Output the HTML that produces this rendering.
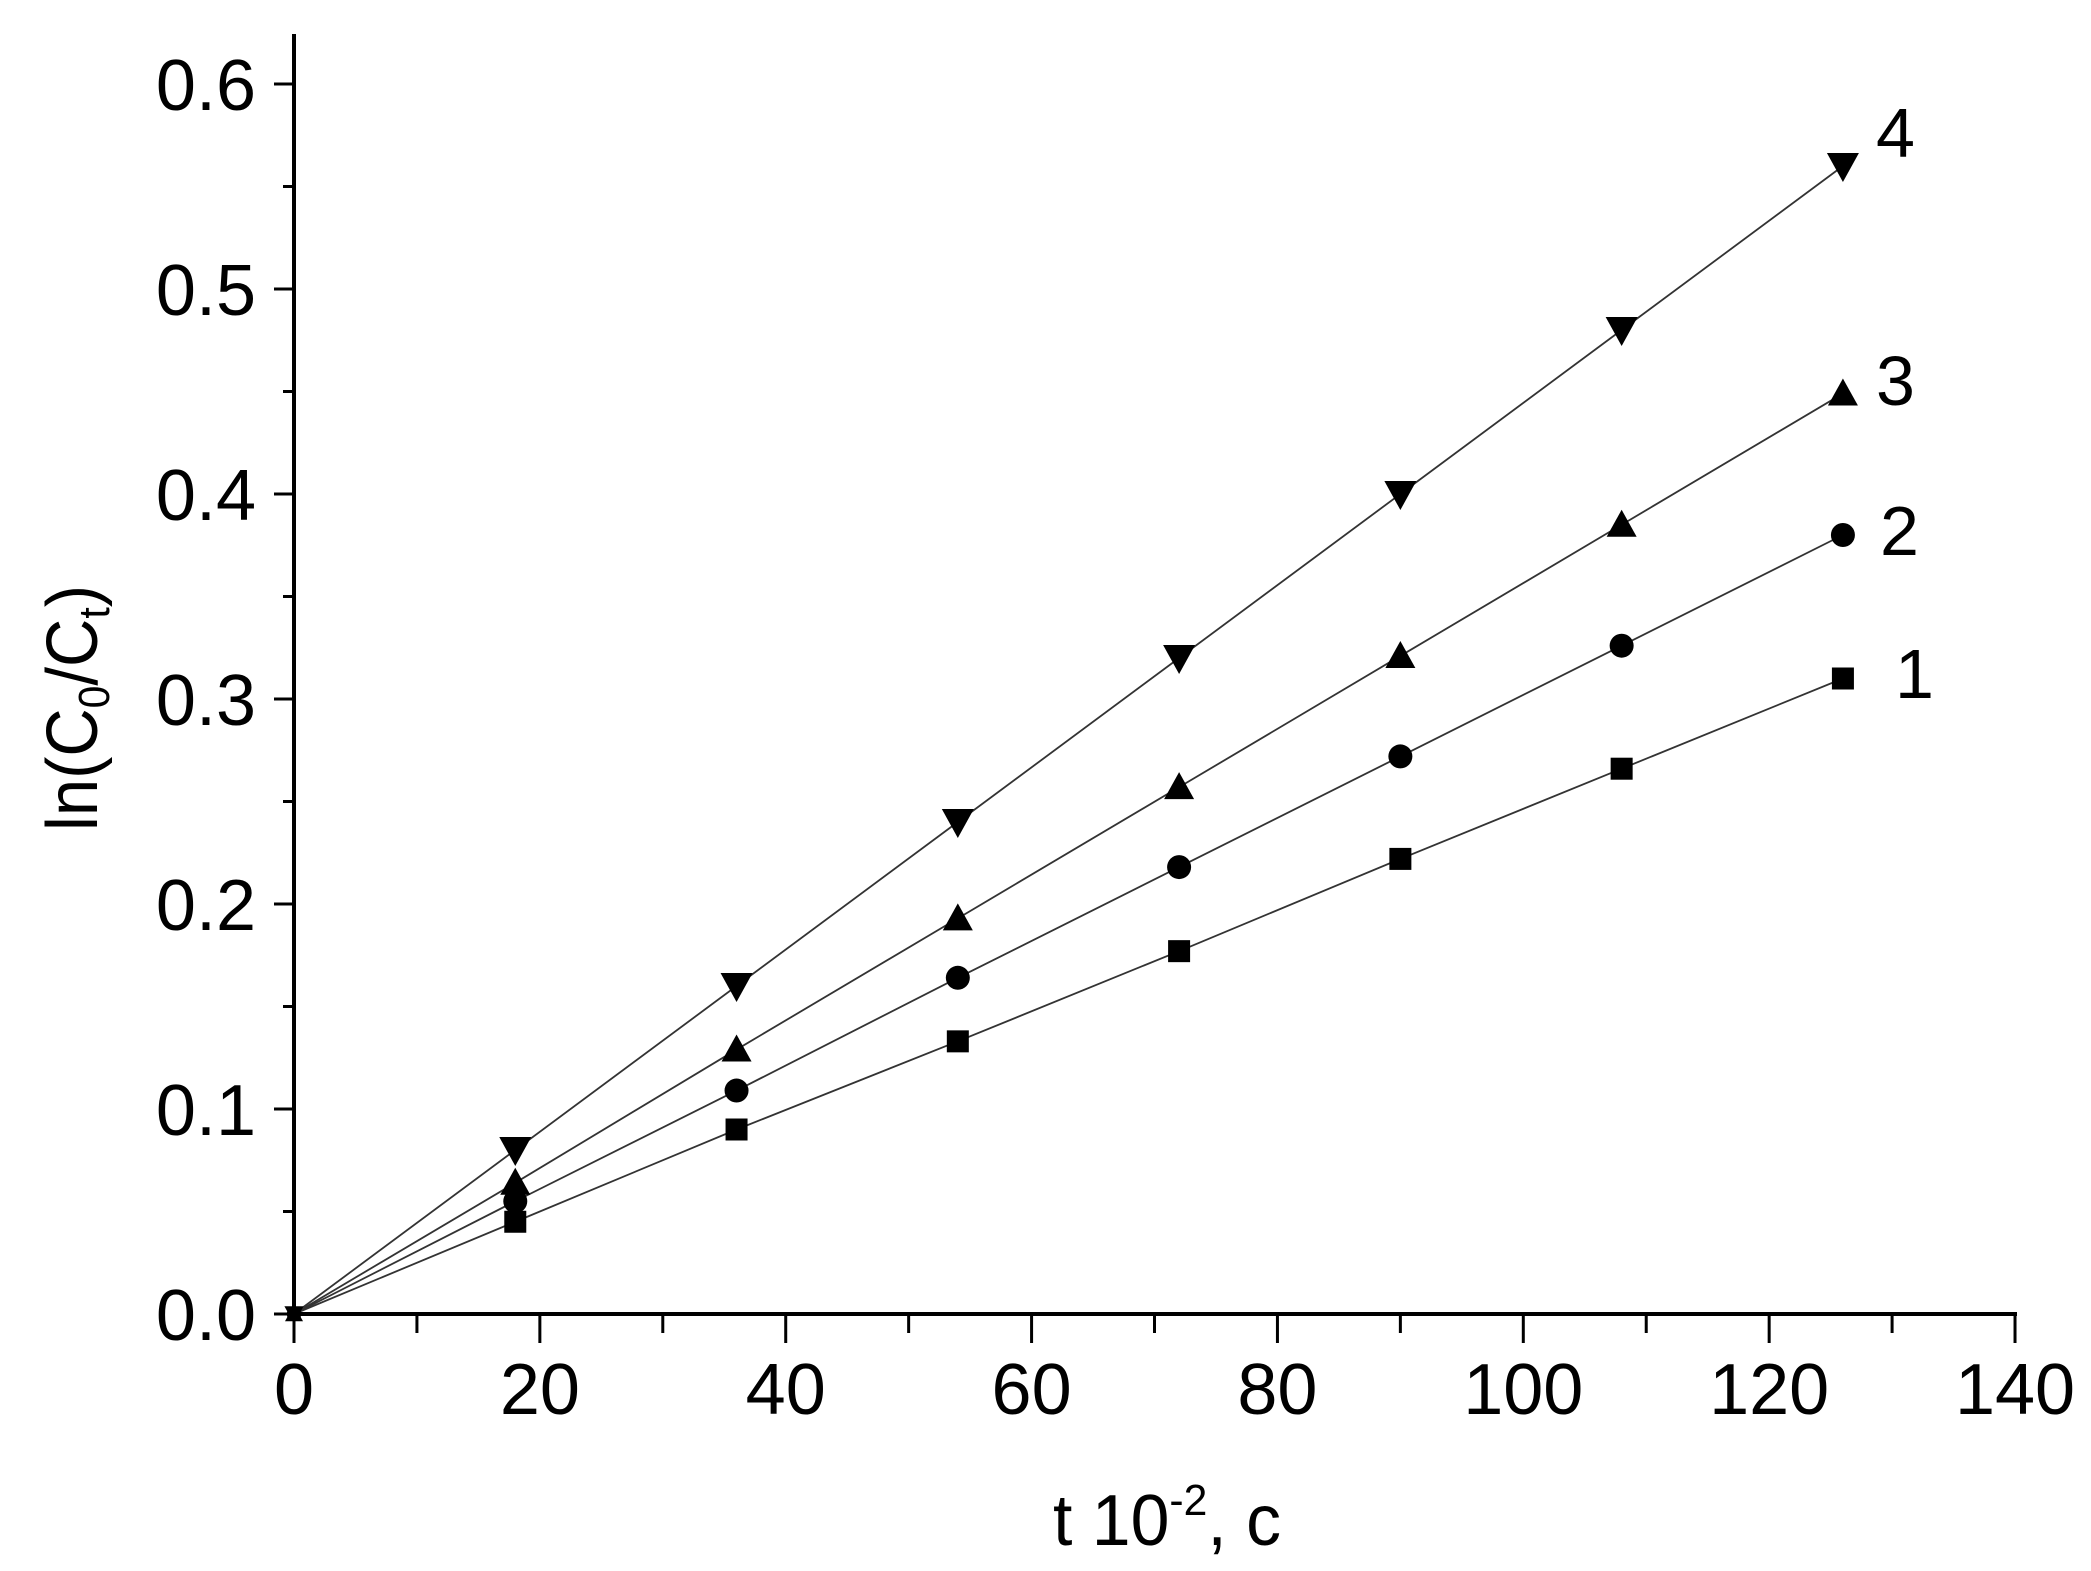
<!DOCTYPE html>
<html><head><meta charset="utf-8"><style>html,body{margin:0;padding:0;background:#fff}svg{display:block}</style></head>
<body>
<svg id="s" width="2091" height="1571" viewBox="0 0 2091 1571" xmlns="http://www.w3.org/2000/svg" font-family="Liberation Sans, Arial, sans-serif">
<rect width="2091" height="1571" fill="#fff"/>
<g id="g"></g>
<text x="0" y="0" font-size="72" transform="translate(97,831) rotate(-90)" textLength="246" lengthAdjust="spacingAndGlyphs">ln(C<tspan font-size="44" dy="12">0</tspan><tspan dy="-12">/C</tspan><tspan font-size="44" dy="12">t</tspan><tspan dy="-12">)</tspan></text>
<text x="1053" y="1545" font-size="72" textLength="228" lengthAdjust="spacingAndGlyphs">t 10<tspan font-size="44" dy="-30">-2</tspan><tspan dy="30">, c</tspan></text>
<text x="1876" y="157" font-size="70">4</text>
<text x="1876" y="405" font-size="70">3</text>
<text x="1880" y="555" font-size="70">2</text>
<text x="1895" y="698" font-size="70">1</text>
</svg>
<script>
const g=document.getElementById('g');const NS='http://www.w3.org/2000/svg';
function el(t,a){const e=document.createElementNS(NS,t);for(const k in a)e.setAttribute(k,a[k]);g.appendChild(e);return e;}
const X=v=>294+v*12.293, Y=v=>1314-v*2050;
el('line',{x1:294,y1:34,x2:294,y2:1316,stroke:'#000','stroke-width':4});
el('line',{x1:292,y1:1314,x2:2017,y2:1314,stroke:'#000','stroke-width':4});
for(let i=0;i<=12;i++){const v=i*0.05,y=Y(v),maj=i%2==0;
 el('line',{x1:maj?274:283,y1:y,x2:294,y2:y,stroke:'#000','stroke-width':3});
 if(maj){const t=el('text',{x:256,y:y+26,'font-size':72,'text-anchor':'end'});t.textContent=v.toFixed(1);}}
for(let i=0;i<=14;i++){const v=i*10,x=X(v),maj=i%2==0;
 el('line',{x1:x,y1:1314,x2:x,y2:maj?1343:1333,stroke:'#000','stroke-width':3});
 if(maj){const t=el('text',{x:x,y:1414,'font-size':72,'text-anchor':'middle'});t.textContent=v;}}
const S=[[0.045,0.09,0.133,0.177,0.222,0.266,0.31],[0.055,0.109,0.164,0.218,0.272,0.326,0.38],[0.064,0.129,0.193,0.257,0.321,0.385,0.449],[0.08,0.16,0.24,0.32,0.40,0.48,0.56]];
S.forEach((s,k)=>{let pts=[[0,0]].concat(s.map((v,i)=>[18*(i+1),v]));
 el('polyline',{points:pts.map(p=>X(p[0])+','+Y(p[1])).join(' '),fill:'none',stroke:'#333','stroke-width':1.8});
 pts.forEach((p,j)=>{const x=X(p[0]),y=Y(p[1]);const f=j==0?0.6:1;
  if(k==0)el('rect',{x:x-11*f,y:y-11*f,width:22*f,height:22*f,fill:'#000'});
  else if(k==1)el('circle',{cx:x,cy:y,r:12*f,fill:'#000'});
  else if(k==2)el('polygon',{points:`${x-15*f},${y+12*f} ${x+15*f},${y+12*f} ${x},${y-15*f}`,fill:'#000'});
  else el('polygon',{points:`${x-16*f},${y-13*f} ${x+16*f},${y-13*f} ${x},${y+16*f}`,fill:'#000'});});});
</script>
</body></html>
